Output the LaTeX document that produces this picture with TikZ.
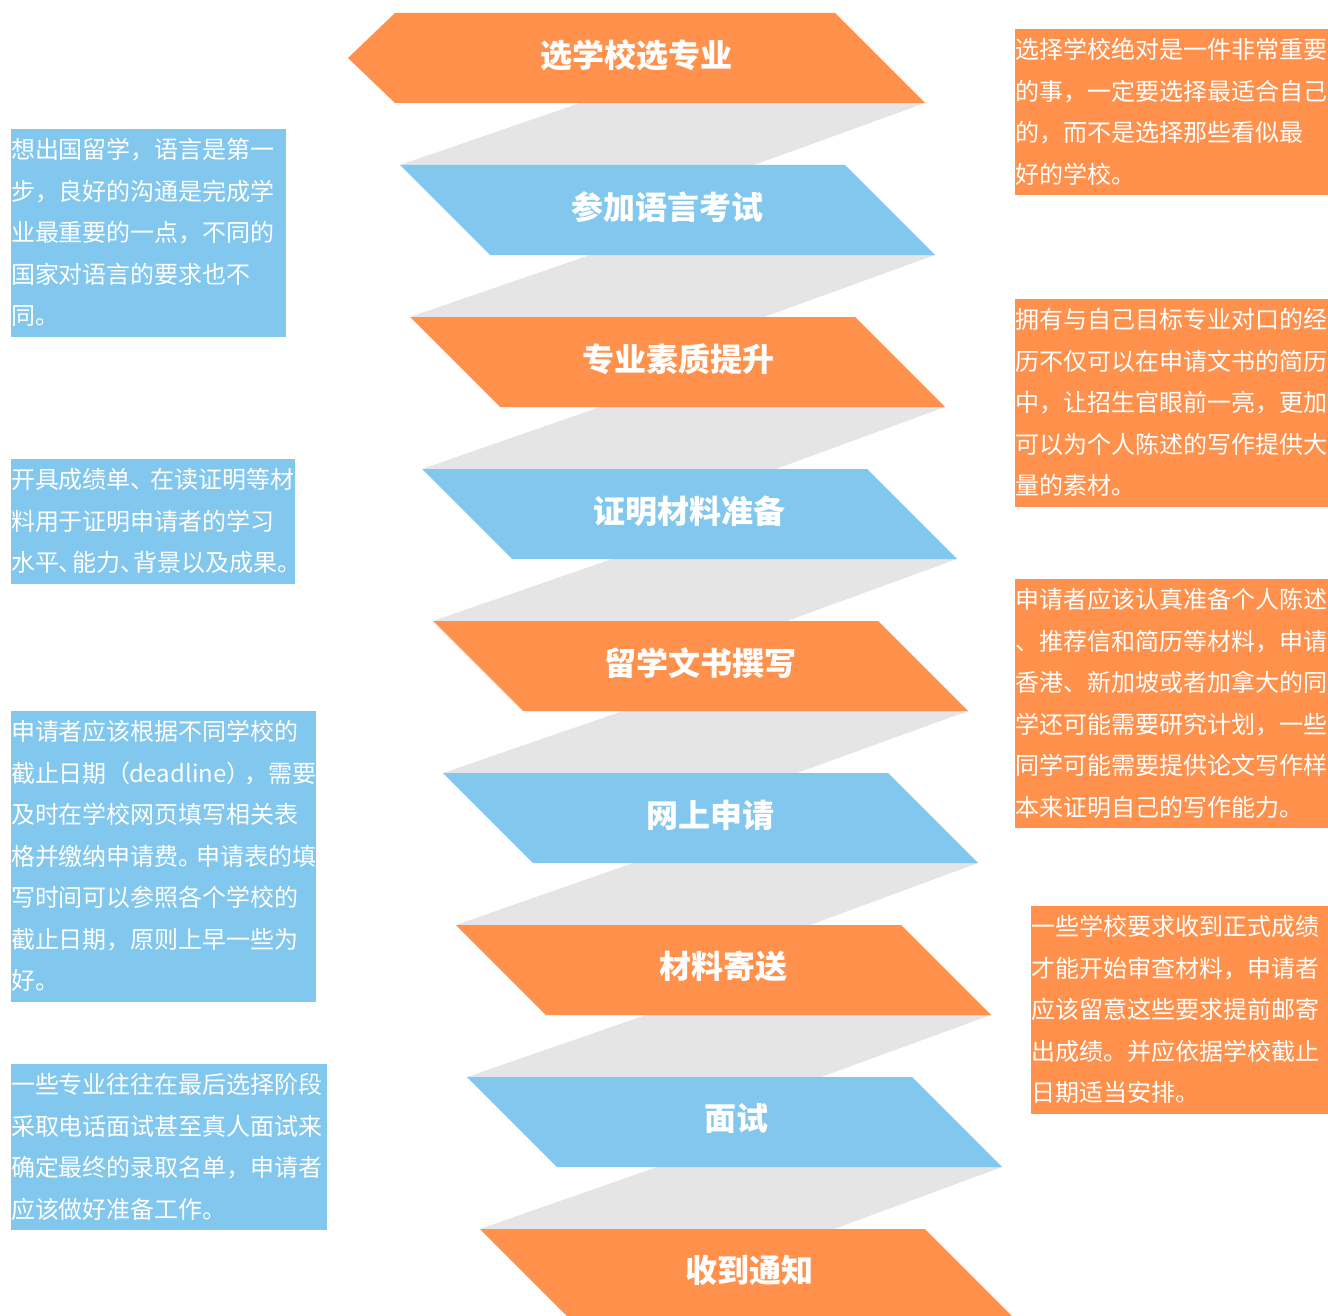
\documentclass[tikz,border=0pt]{standalone}
\usepackage{fontspec}
\setmainfont{Noto Sans CJK SC}
\definecolor{orng}{HTML}{FF914D}
\definecolor{skyb}{HTML}{82C7EE}
\definecolor{grayb}{HTML}{E5E5E5}
\newcommand\sstrut{\rule[-11.75pt]{0pt}{41.5pt}}
\newcommand\nl{\\\sstrut}
\tikzset{
  bandtxt/.style={text=white, font=\fontsize{32}{36}\selectfont\bfseries, inner sep=0pt},
  note/.style={anchor=north west, inner sep=0pt, outer sep=0pt, align=left, text=white,
    font=\fontsize{24}{41.5}\selectfont, text width=#1}
}
\begin{document}
\begin{tikzpicture}[x=1pt,y=-1pt]
\useasboundingbox (0,0) rectangle (1328,1316);
\clip (0,0) rectangle (1328,1316);
% gray back folds
\foreach \La/\Ta/\Lb in {390/13/400, 400/165/410, 410/317/422, 422/469/433, 433/621/443, 443/773/456, 456/925/467, 467/1077/480}
  \fill[grayb] (\La+190,\Ta+90) -- (\La+535,\Ta+90) -- (\Lb+354,\Ta+152) -- (\Lb,\Ta+152) -- cycle;
% bands
\fill[orng] (348,58) -- (395,13) -- (835,13) -- (925,103) -- (395,103) -- cycle;
\foreach \L/\T/\c in {400/165/skyb, 410/317/orng, 422/469/skyb, 433/621/orng, 443/773/skyb, 456/925/orng, 467/1077/skyb, 480/1229/orng}
  \fill[\c] (\L,\T) -- ++(445,0) -- ++(90,90) -- ++(-445,0) -- cycle;
% band labels
\node[bandtxt] (s1) at (636,55) {选学校选专业};
\node[bandtxt] (s2) at (667,207) {参加语言考试};
\node[bandtxt] (s3) at (678,359) {专业素质提升};
\node[bandtxt] (s4) at (689,511) {证明材料准备};
\node[bandtxt] (s5) at (700,663) {留学文书撰写};
\node[bandtxt] (s6) at (710,815) {网上申请};
\node[bandtxt] (s7) at (723,966) {材料寄送};
\node[bandtxt] (s8) at (736,1118) {面试};
\node[bandtxt] (s9) at (749,1270) {收到通知};
% left notes
\node[note=275pt, fill=skyb] (l1) at (11,129) {\sstrut 想出国留学，语言是第一\nl 步，良好的沟通是完成学\nl 业最重要的一点，不同的\nl 国家对语言的要求也不\nl 同。};
\node[note=284pt, fill=skyb] (l2) at (11,459) {\sstrut 开具成绩单、\kern-5pt在读证明等材\nl 料用于证明申请者的学习\nl 水平、\kern-11pt能力、\kern-11pt背景以及成果。};
\node[note=305pt, fill=skyb] (l3) at (11,711) {\sstrut 申请者应该根据不同学校的\nl 截止日期（\kern-2pt deadline）\kern-6pt，需要\nl 及时在学校网页填写相关表\nl 格并缴纳申请费。\kern-6pt申请表的填\nl 写时间可以参照各个学校的\nl 截止日期，原则上早一些为\nl 好。};
\node[note=316pt, fill=skyb] (l4) at (11,1064) {\sstrut 一些专业往往在最后选择阶段\nl 采取电话面试甚至真人面试来\nl 确定最终的录取名单，申请者\nl 应该做好准备工作。};
% right notes
\node[note=313pt, fill=orng] (r1) at (1015,29) {\sstrut 选择学校绝对是一件非常重要\nl 的事，一定要选择最适合自己\nl 的，而不是选择那些看似最\nl 好的学校。};
\node[note=313pt, fill=orng] (r2) at (1015,299) {\sstrut 拥有与自己目标专业对口的经\nl 历不仅可以在申请文书的简历\nl 中，让招生官眼前一亮，更加\nl 可以为个人陈述的写作提供大\nl 量的素材。};
\node[note=313pt, fill=orng] (r3) at (1015,579) {\sstrut 申请者应该认真准备个人陈述\nl 、推荐信和简历等材料，申请\nl 香港、新加坡或者加拿大的同\nl 学还可能需要研究计划，一些\nl 同学可能需要提供论文写作样\nl 本来证明自己的写作能力。};
\node[note=297pt, fill=orng] (r4) at (1031,906) {\sstrut 一些学校要求收到正式成绩\nl 才能开始审查材料，申请者\nl 应该留意这些要求提前邮寄\nl 出成绩。并应依据学校截止\nl 日期适当安排。};
\end{tikzpicture}
\end{document}
